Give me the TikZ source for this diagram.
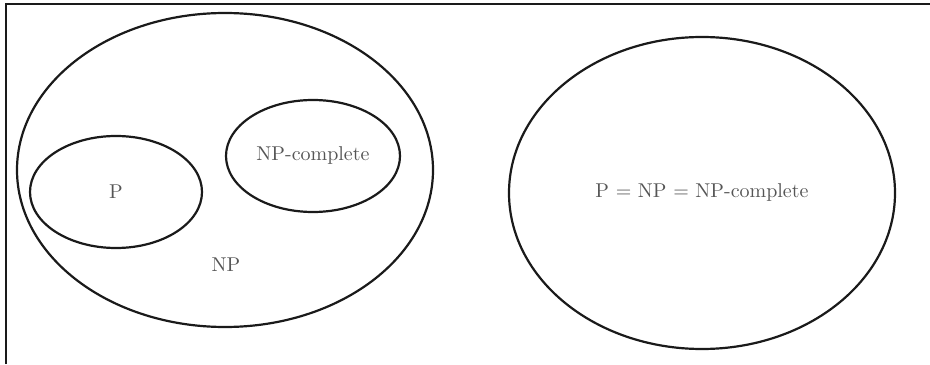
\documentclass[tikz,border=0pt]{standalone}
\usepackage{tikz}
\usetikzlibrary{shapes.geometric}
\definecolor{INK}{HTML}{1A1A1A}
\definecolor{TXT}{HTML}{555555}

\begin{document}
\begin{tikzpicture}[x=0.5pt,y=0.5pt]
\tikzset{setl/.style={ellipse,draw=INK,line width=1.1pt,inner sep=0pt,text=TXT},
 lbl/.style={text=TXT,font=\normalsize}}
\useasboundingbox (0,0) rectangle (930,364);
\draw[INK,line width=0.9pt] (6,0) -- (6,360) -- (930,360);
\node[setl,minimum width=208pt,minimum height=157pt] (np) at (225,194) {};
\node[setl,minimum width=86pt,minimum height=56pt] (p) at (116,172) {P};
\node[setl,minimum width=87pt,minimum height=56pt] (npc) at (313,208) {NP-complete};
\node[lbl] (nplbl) at (226,99) {NP};
\node[setl,minimum width=193pt,minimum height=156pt] (all) at (702,171) {P = NP = NP-complete};
\end{tikzpicture}
\end{document}
